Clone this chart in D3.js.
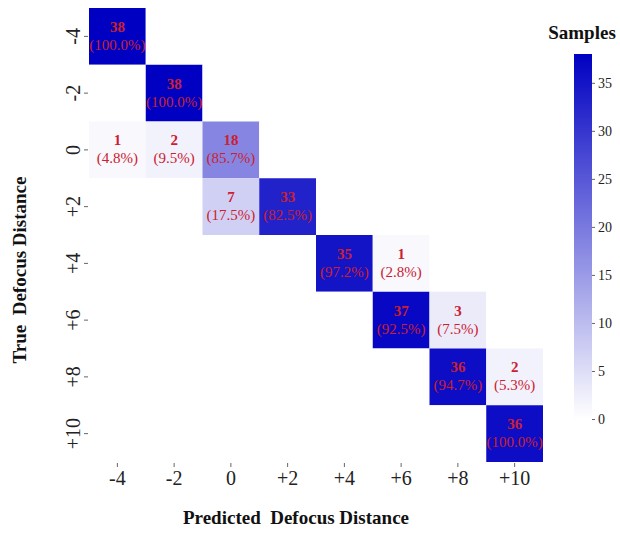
<!DOCTYPE html>
<html>
<head>
<meta charset="utf-8">
<script src="https://cdn.jsdelivr.net/npm/d3@7"></script>
<style>
  body { margin: 0; background: #fff; }
  text { font-family: "Liberation Serif", "Times New Roman", serif; }
</style>
</head>
<body>
<script>
const width = 620;
const height = 533;

// tick labels (true / predicted defocus distance)
const labels = ["-4", "-2", "0", "+2", "+4", "+6", "+8", "+10"];

// confusion matrix counts, rows = true, cols = predicted
const counts = [
  [38, 0, 0, 0, 0, 0, 0, 0],
  [0, 38, 0, 0, 0, 0, 0, 0],
  [1, 2, 18, 0, 0, 0, 0, 0],
  [0, 0, 7, 33, 0, 0, 0, 0],
  [0, 0, 0, 0, 35, 1, 0, 0],
  [0, 0, 0, 0, 0, 37, 3, 0],
  [0, 0, 0, 0, 0, 0, 36, 2],
  [0, 0, 0, 0, 0, 0, 0, 36],
];

const colorTicks = [0, 5, 10, 15, 20, 25, 30, 35];
const maxCount = 38;
const serif = "Liberation Serif";

const svg = d3
  .select("body")
  .append("svg")
  .attr("width", width)
  .attr("height", height);

const x = d3.scaleBand().domain(labels).range([89, 543]);
const y = d3.scaleBand().domain(labels).range([8, 462]);

const color = d3
  .scaleLinear()
  .domain([0, maxCount])
  .range(["#ffffff", "#0000c2"]);

const cells = [];
counts.forEach((row, i) => {
  const total = d3.sum(row);
  row.forEach((v, j) => {
    cells.push({ t: labels[i], p: labels[j], v: v, pct: (v / total) * 100 });
  });
});

svg
  .append("g")
  .selectAll("rect")
  .data(cells)
  .enter()
  .append("rect")
  .attr("x", (d) => x(d.p))
  .attr("y", (d) => y(d.t))
  .attr("width", x.bandwidth())
  .attr("height", y.bandwidth())
  .attr("fill", (d) => color(d.v));

const nonZero = cells.filter((d) => d.v > 0);
const textG = svg.append("g").attr("fill", "#cc2030").attr("text-anchor", "middle");

textG
  .selectAll("text.count")
  .data(nonZero)
  .enter()
  .append("text")
  .attr("class", "count")
  .attr("x", (d) => x(d.p) + x.bandwidth() / 2)
  .attr("y", (d) => y(d.t) + y.bandwidth() * 0.42)
  .attr("font-size", 15)
  .attr("font-weight", "bold")
  .text((d) => d.v);

textG
  .selectAll("text.pct")
  .data(nonZero)
  .enter()
  .append("text")
  .attr("class", "pct")
  .attr("x", (d) => x(d.p) + x.bandwidth() / 2)
  .attr("y", (d) => y(d.t) + y.bandwidth() * 0.74)
  .attr("font-size", 15)
  .text((d) => "(" + d.pct.toFixed(1) + "%)");

// x axis
const xAxis = svg
  .append("g")
  .attr("transform", "translate(0,463)")
  .call(d3.axisBottom(x).tickSize(4).tickPadding(4))
  .attr("font-family", serif);
xAxis.select(".domain").remove();
xAxis.selectAll(".tick line").attr("stroke", "#666");
xAxis
  .selectAll(".tick text")
  .attr("font-size", 20)
  .attr("fill", "#222")
  .style("font-family", serif);

// y axis
const yAxis = svg
  .append("g")
  .attr("transform", "translate(88,0)")
  .call(d3.axisLeft(y).tickSize(4).tickPadding(5))
  .attr("font-family", serif);
yAxis.select(".domain").remove();
yAxis.selectAll(".tick line").attr("stroke", "#666");
yAxis
  .selectAll(".tick text")
  .attr("font-size", 20)
  .attr("fill", "#222")
  .style("font-family", serif)
  .attr("text-anchor", "middle")
  .attr("dy", null)
  .attr("x", null)
  .attr("transform", "translate(-15,0) rotate(-90)")
  .attr("dominant-baseline", "central");

// axis titles
svg
  .append("text")
  .attr("x", 296)
  .attr("y", 524)
  .attr("text-anchor", "middle")
  .attr("font-size", 19)
  .attr("font-weight", "bold")
  .attr("fill", "#111")
  .style("white-space", "pre")
  .text("Predicted  Defocus Distance");

svg
  .append("text")
  .attr("transform", "translate(26,270) rotate(-90)")
  .attr("text-anchor", "middle")
  .attr("font-size", 19)
  .attr("font-weight", "bold")
  .attr("fill", "#111")
  .style("white-space", "pre")
  .text("True  Defocus Distance");

// colour bar
const cb = d3.scaleLinear().domain([0, maxCount]).range([419, 54]);
const grad = svg
  .append("defs")
  .append("linearGradient")
  .attr("id", "cbar")
  .attr("x1", 0)
  .attr("y1", 1)
  .attr("x2", 0)
  .attr("y2", 0);
grad.append("stop").attr("offset", "0%").attr("stop-color", color(0));
grad.append("stop").attr("offset", "100%").attr("stop-color", color(maxCount));

svg
  .append("rect")
  .attr("x", 574)
  .attr("y", cb(maxCount))
  .attr("width", 18)
  .attr("height", cb(0) - cb(maxCount))
  .attr("fill", "url(#cbar)");

const cAxis = svg
  .append("g")
  .attr("transform", "translate(592,0)")
  .call(d3.axisRight(cb).tickValues(colorTicks).tickSize(3).tickPadding(3))
  .attr("font-family", serif);
cAxis.select(".domain").remove();
cAxis.selectAll(".tick line").attr("stroke", "#666");
cAxis
  .selectAll(".tick text")
  .attr("font-size", 14)
  .attr("fill", "#222")
  .style("font-family", serif);

svg
  .append("text")
  .attr("x", 582)
  .attr("y", 39)
  .attr("text-anchor", "middle")
  .attr("font-size", 19)
  .attr("font-weight", "bold")
  .attr("fill", "#111")
  .text("Samples");
</script>
</body>
</html>
